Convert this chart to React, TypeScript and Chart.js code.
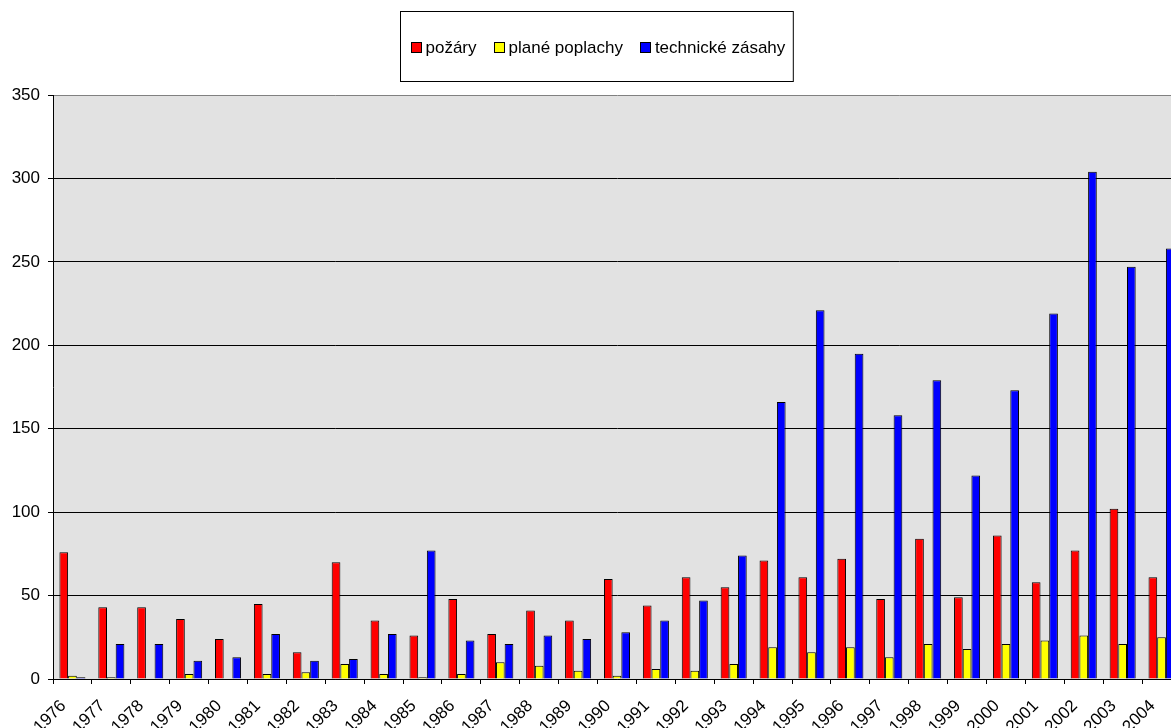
import React, { useEffect, useRef } from 'react';
import { Chart, registerables } from 'chart.js';

Chart.register(...registerables);

const years = ['1976','1977','1978','1979','1980','1981','1982','1983','1984','1985','1986','1987','1988','1989','1990','1991','1992','1993','1994','1995','1996','1997','1998','1999','2000','2001','2002','2003','2004'];
const pozary = [76,43,43,36,24,45,16,70,35,26,48,27,41,35,60,44,61,55,71,61,72,48,84,49,86,58,77,102,61];
const planePoplachy = [2,1,0,3,0,3,4,9,3,1,3,10,8,5,2,6,5,9,19,16,19,13,21,18,21,23,26,21,25];
const technickeZasahy = [1,21,21,11,13,27,11,12,27,77,23,21,26,24,28,35,47,74,166,221,195,158,179,122,173,219,304,247,258];
const seriesLabels = ['požáry', 'plané poplachy', 'technické zásahy'];
const seriesColors = ['#FF0000', '#FFFF00', '#0000FF'];

const FONT = '"Liberation Sans", Arial, sans-serif';

const plotBg = {
  id: 'plotBg',
  beforeDraw(chart: any) {
    const { ctx, chartArea } = chart;
    ctx.save();
    ctx.fillStyle = '#e2e2e2';
    ctx.fillRect(chartArea.left, chartArea.top, chartArea.right - chartArea.left, chartArea.bottom - chartArea.top);
    ctx.restore();
  },
};

const boxLegend = {
  id: 'boxLegend',
  afterDraw(chart: any) {
    const ctx = chart.ctx;
    ctx.save();
    ctx.font = `17px ${FONT}`;
    const items = chart.data.datasets.map((d: any) => ({
      label: d.label,
      color: d.backgroundColor,
      w: ctx.measureText(d.label).width,
    }));
    const sq = 11, gapText = 4, gapItem = 17, padL = 10, padR = 8;
    const total = items.reduce((s: number, i: any) => s + sq + gapText + i.w, 0) + gapItem * (items.length - 1);
    const boxW = total + padL + padR;
    const cx = 596.5;
    const boxL = Math.round(cx - boxW / 2) + 0.5;
    const boxT = 11.5, boxH = 70;
    ctx.fillStyle = '#ffffff';
    ctx.fillRect(boxL, boxT, boxW, boxH);
    ctx.strokeStyle = '#000000';
    ctx.lineWidth = 1;
    ctx.strokeRect(boxL, boxT, boxW, boxH);
    const cy = 47;
    let x = boxL + padL;
    ctx.textBaseline = 'middle';
    ctx.textAlign = 'left';
    for (const it of items) {
      ctx.fillStyle = it.color;
      ctx.fillRect(Math.round(x), cy - 5, sq, sq);
      ctx.strokeStyle = '#000';
      ctx.strokeRect(Math.round(x) + 0.5, cy - 5 + 0.5, sq - 1, sq - 1);
      x += sq + gapText;
      ctx.fillStyle = '#000';
      ctx.fillText(it.label, x, cy + 1);
      x += it.w + gapItem;
    }
    ctx.restore();
  },
};

export default function App() {
  const ref = useRef<HTMLCanvasElement>(null);
  useEffect(() => {
    if (!ref.current) return;
    const values = [pozary, planePoplachy, technickeZasahy];
    const chart = new Chart(ref.current, {
      type: 'bar',
      data: {
        labels: years,
        datasets: values.map((v, i) => ({
          label: seriesLabels[i],
          data: v,
          backgroundColor: seriesColors[i],
          borderColor: '#000000',
          borderWidth: 1,
          categoryPercentage: 0.67,
          barPercentage: 1,
        })),
      },
      options: {
        responsive: false,
        animation: false,
        devicePixelRatio: 1,
        layout: { padding: { top: 95, left: 0, right: 0, bottom: 0 } },
        plugins: { legend: { display: false }, tooltip: { enabled: false } },
        scales: {
          x: {
            afterFit: (s: any) => { s.height = 71; s.paddingLeft = 0; s.paddingRight = 0; },
            border: { color: '#000', width: 1 },
            grid: { display: true, drawOnChartArea: false, color: '#000', tickLength: 5, offset: true },
            ticks: { color: '#000', font: { size: 17, family: FONT }, minRotation: 45, maxRotation: 45, padding: 12, labelOffset: -9, autoSkip: false },
          },
          y: {
            min: 0,
            max: 350,
            afterFit: (s: any) => { s.width = 53; s.paddingTop = 0; s.paddingBottom = 0; },
            border: { color: '#000', width: 1 },
            grid: {
              color: (c: any) => (c.tick && c.tick.value === 350 ? '#808080' : '#000'),
              tickColor: '#000',
              tickLength: 5,
            },
            ticks: { stepSize: 50, color: '#000', font: { size: 17, family: FONT }, padding: 8 },
          },
        },
      },
      plugins: [plotBg, boxLegend],
    });
    return () => chart.destroy();
  }, []);
  return (
    <div style={{ position: 'fixed', left: 0, top: 0, width: 1171, height: 728, overflow: 'hidden', background: '#fff' }}>
      <canvas ref={ref} width={1181} height={750} style={{ display: 'block' }} />
    </div>
  );
}
